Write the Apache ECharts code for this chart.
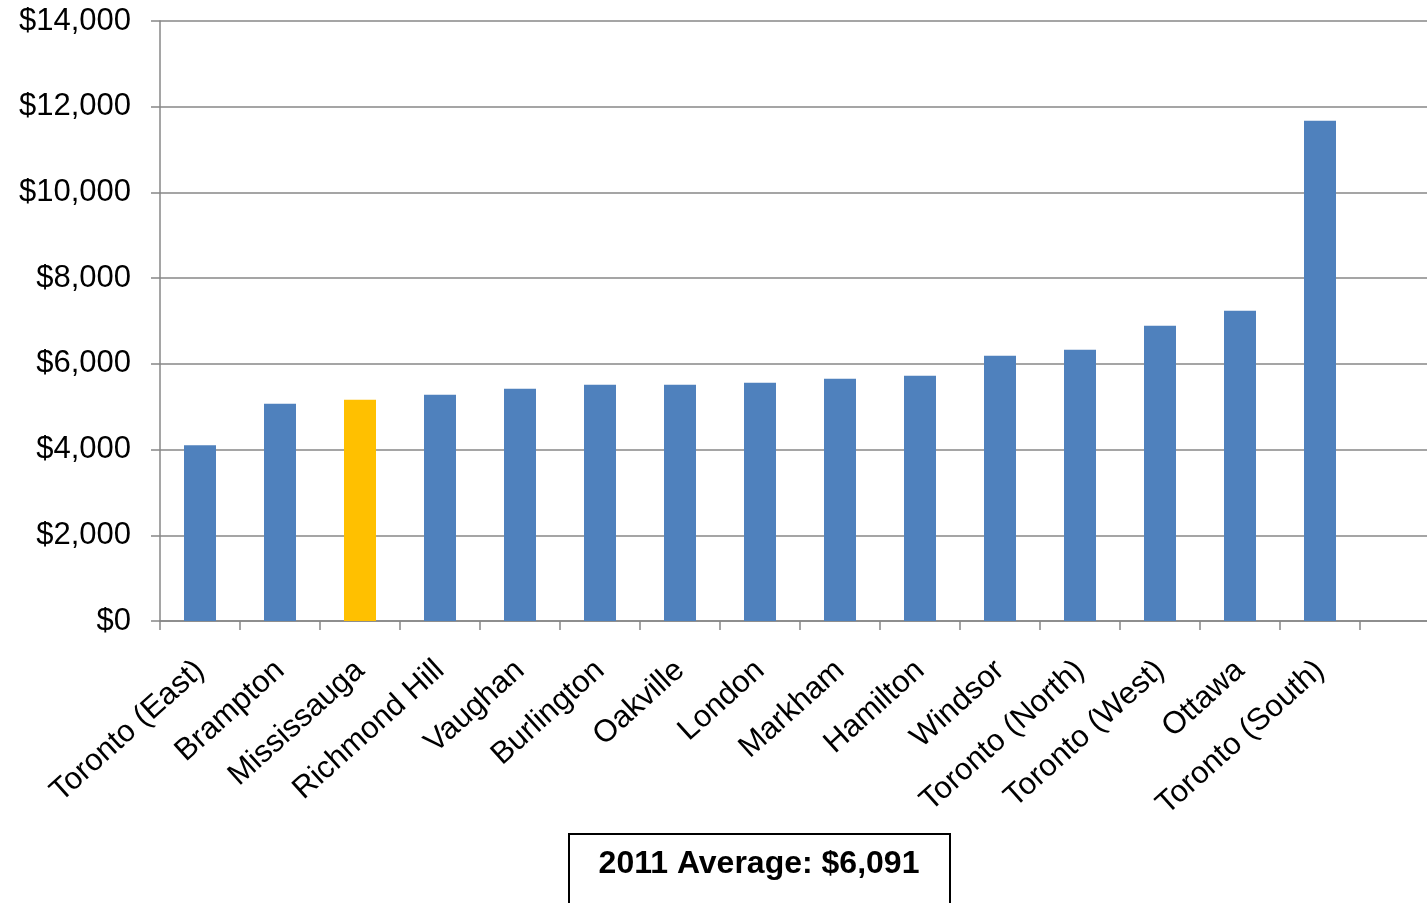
<!DOCTYPE html>
<html>
<head>
<meta charset="utf-8">
<script src="https://cdn.jsdelivr.net/npm/echarts@6/dist/echarts.min.js"></script>
<style>
  html, body { margin: 0; padding: 0; background: #ffffff; overflow: hidden; }
  /* the plot area runs slightly past the right edge of the window */
  #chart { width: 1440px; height: 903px; }
</style>
</head>
<body>
<div id="chart"></div>
<script>
// Municipalities, ordered from lowest to highest value
const categories = [
  'Toronto (East)', 'Brampton', 'Mississauga', 'Richmond Hill', 'Vaughan',
  'Burlington', 'Oakville', 'London', 'Markham', 'Hamilton', 'Windsor',
  'Toronto (North)', 'Toronto (West)', 'Ottawa', 'Toronto (South)', ''
];
const values = [
  4100, 5070, 5160, 5280, 5420, 5510, 5510, 5560, 5650, 5720, 6190,
  6330, 6890, 7240, 11670, null
];
const highlightName = 'Mississauga';
const yTicks = { min: 0, max: 14000, interval: 2000 };
const averageText = '2011 Average: $6,091';

const BLUE = '#4F81BD';
const GOLD = '#FFC000';
const GREY = '#878787';
const FONT = '"Liberation Sans", Arial, sans-serif';

const chart = echarts.init(document.getElementById('chart'), null, { renderer: 'canvas' });

const barData = values.map((v, i) => ({
  value: v,
  itemStyle: { color: categories[i] === highlightName ? GOLD : BLUE }
}));

chart.setOption({
  animation: false,
  backgroundColor: '#ffffff',
  grid: { left: 160, top: 21, right: 0, bottom: 282, containLabel: false },
  xAxis: {
    type: 'category',
    data: categories,
    boundaryGap: true,
    axisLine: { show: true, lineStyle: { color: GREY, width: 1.5 } },
    axisTick: { show: true, length: 9, lineStyle: { color: GREY, width: 1.5 } },
    axisLabel: {
      interval: 0,
      rotate: 42,
      margin: 45,
      color: '#000000',
      fontFamily: FONT,
      fontSize: 31
    }
  },
  yAxis: {
    type: 'value',
    min: yTicks.min,
    max: yTicks.max,
    interval: yTicks.interval,
    axisLine: { show: true, lineStyle: { color: GREY, width: 1.5 } },
    axisTick: { show: true, length: 9, lineStyle: { color: GREY, width: 1.5 } },
    splitLine: { show: true, lineStyle: { color: GREY, width: 1.5 } },
    axisLabel: {
      margin: 29,
      color: '#000000',
      fontFamily: FONT,
      fontSize: 31,
      formatter: v => '$' + v.toLocaleString('en-US')
    }
  },
  series: [{
    type: 'bar',
    data: barData,
    barWidth: '40%'
  }],
  graphic: [{
    type: 'group',
    left: 568,
    top: 833,
    children: [{
      type: 'rect',
      shape: { x: 0, y: 0, width: 381, height: 90 },
      style: { fill: '#ffffff', stroke: '#000000', lineWidth: 2 }
    }, {
      type: 'text',
      x: 190,
      y: 30,
      style: {
        text: averageText,
        fontFamily: FONT,
        fontSize: 32,
        fontWeight: 'bold',
        fill: '#000000',
        align: 'center',
        verticalAlign: 'middle'
      }
    }]
  }]
});
</script>
</body>
</html>
